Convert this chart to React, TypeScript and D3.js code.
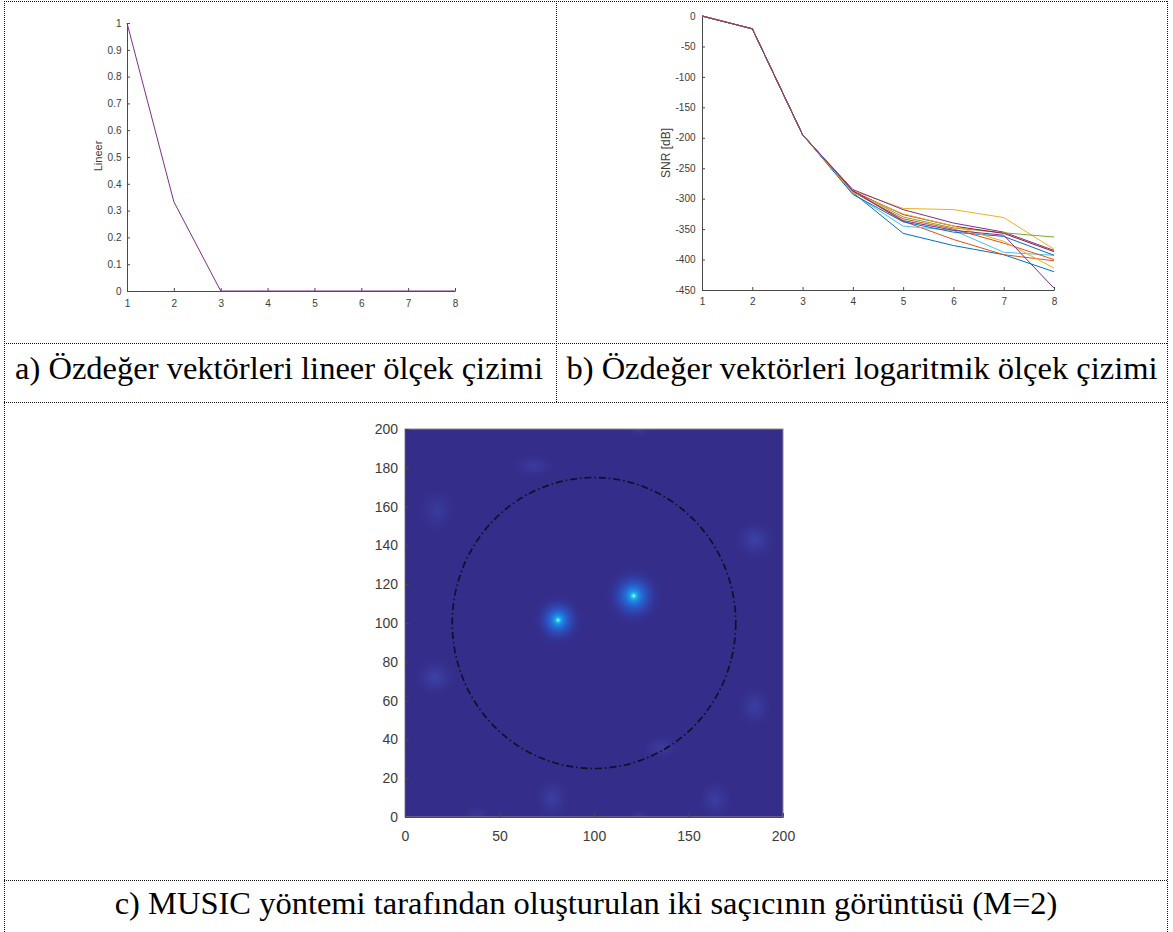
import React, { useEffect, useRef } from 'react';
import * as d3 from 'd3';

// panel a: normalised eigenvalues (linear)
const eigIndex = [1, 2, 3, 4, 5, 6, 7, 8];
const linearValues = [1, 0.333, 0, 0, 0, 0, 0, 0];
const linearTicks = [0, 0.1, 0.2, 0.3, 0.4, 0.5, 0.6, 0.7, 0.8, 0.9, 1];

// panel b: eigenvalues in dB, one line per run
const snrRun1 = [0, -21, -195, -290, -357, -377, -392, -420];
const snrRun2 = [0, -21, -195, -288, -337, -367, -392, -402];
const snrRun3 = [0, -21, -195, -287, -316, -318, -331, -383];
const snrRun4 = [0, -21, -195, -285, -318, -340, -355, -385];
const snrRun5 = [0, -21, -195, -287, -330, -348, -356, -363];
const snrRun6 = [0, -21, -195, -292, -345, -352, -388, -393];
const snrRun7 = [0, -21, -195, -288, -326, -345, -357, -387];
const snrRun8 = [0, -21, -195, -293, -338, -355, -362, -393];
const snrRun9 = [0, -21, -195, -289, -333, -350, -373, -400];
const snrRun10 = [0, -21, -195, -290, -325, -345, -370, -414];
const snrRun11 = [0, -21, -195, -287, -336, -352, -360, -447];
const snrRuns = [snrRun1, snrRun2, snrRun3, snrRun4, snrRun5, snrRun6, snrRun7, snrRun8, snrRun9, snrRun10, snrRun11];
const snrTicks = [0, -50, -100, -150, -200, -250, -300, -350, -400, -450];
const runColors = ['#0072BD', '#D95319', '#EDB120', '#7E2F8E', '#77AC30', '#4DBEEE', '#A2142F'];

// panel c: MUSIC image
const scattererX = [81, 121];
const scattererY = [101.5, 114];
const scattererSpread = [14, 16];
const lobeX = [17, 185, 16, 185, 78, 164, 135, 68, 124, 38, 124];
const lobeY = [158, 143, 72, 57, 10, 9, 36, 181, 200, 1, 0];
const lobeSpreadX = [11, 12, 12, 10, 10, 10, 11, 13, 8, 8, 7];
const lobeSpreadY = [13, 11, 11, 12, 12, 12, 7, 7, 5, 6, 5];
const lobeLevel = [0.55, 0.8, 0.8, 0.7, 0.7, 0.65, 0.6, 0.55, 0.5, 0.45, 0.45];
const imageXTicks = [0, 50, 100, 150, 200];
const imageYTicks = [0, 20, 40, 60, 80, 100, 120, 140, 160, 180, 200];
const arrayCenter = 100;
const arrayRadius = 75;

const captionA = 'a) Özdeğer vektörleri lineer ölçek çizimi';
const captionB = 'b) Özdeğer vektörleri logaritmik ölçek çizimi';
const captionC = 'c) MUSIC yöntemi tarafından oluşturulan iki saçıcının görüntüsü (M=2)';

export default function App() {
  const svgRef = useRef<SVGSVGElement>(null);

  useEffect(() => {
    const svg = d3.select(svgRef.current);
    svg.selectAll('*').remove();

    const tickFont = "'Liberation Sans', Arial, sans-serif";
    const axisColor = '#4a4a4a';
    const labelColor = '#3c3c3c';

    function styleAxis(g, fontSize) {
      g.select('.domain').attr('stroke', axisColor);
      g.selectAll('.tick line').attr('stroke', axisColor);
      g.selectAll('.tick text')
        .attr('fill', labelColor)
        .style('font-family', tickFont)
        .style('font-size', fontSize + 'px');
    }

    // table frame (dotted word table borders)
    const frame = svg
      .append('g')
      .attr('stroke', '#111')
      .attr('stroke-width', 1)
      .attr('stroke-dasharray', '1,1');
    [1.5, 343.5, 402.5, 880.5].forEach((y) => {
      frame.append('line').attr('x1', 4).attr('x2', 1168).attr('y1', y).attr('y2', y);
    });
    frame.append('line').attr('x1', 4.5).attr('x2', 4.5).attr('y1', 1).attr('y2', 932);
    frame.append('line').attr('x1', 1167.5).attr('x2', 1167.5).attr('y1', 1).attr('y2', 932);
    frame.append('line').attr('x1', 556.5).attr('x2', 556.5).attr('y1', 1).attr('y2', 402);

    // ---- panel a
    const xA = d3.scaleLinear().domain([1, 8]).range([127, 455]);
    const yA = d3.scaleLinear().domain([0, 1]).range([291, 23]);
    const gA = svg.append('g');
    gA.append('g')
      .attr('transform', 'translate(0,291)')
      .call(d3.axisBottom(xA).tickValues(eigIndex).tickSizeInner(-3).tickSizeOuter(0).tickPadding(9).tickFormat((d) => String(d)))
      .call((g) => styleAxis(g, 10));
    gA.append('g')
      .attr('transform', 'translate(127,0)')
      .call(d3.axisLeft(yA).tickValues(linearTicks).tickSizeInner(-3).tickSizeOuter(0).tickPadding(5.5).tickFormat((d) => String(d)))
      .call((g) => styleAxis(g, 10));
    gA.append('path')
      .datum(linearValues)
      .attr('fill', 'none')
      .attr('stroke', '#7E2F8E')
      .attr('stroke-width', 1)
      .attr('d', d3.line<number>().x((d, i) => xA(eigIndex[i])).y((d) => yA(d)));
    gA.append('text')
      .attr('transform', 'translate(102,156) rotate(-90)')
      .attr('text-anchor', 'middle')
      .attr('fill', labelColor)
      .style('font-family', tickFont)
      .style('font-size', '11px')
      .text('Lineer');

    // ---- panel b
    const xB = d3.scaleLinear().domain([1, 8]).range([702, 1054]);
    const yB = d3.scaleLinear().domain([-450, 0]).range([290, 16]);
    const gB = svg.append('g');
    gB.append('g')
      .attr('transform', 'translate(0,290)')
      .call(d3.axisBottom(xB).tickValues(eigIndex).tickSizeInner(-3).tickSizeOuter(0).tickPadding(8).tickFormat((d) => String(d)))
      .call((g) => styleAxis(g, 10));
    gB.append('g')
      .attr('transform', 'translate(702,0)')
      .call(d3.axisLeft(yB).tickValues(snrTicks).tickSizeInner(-3).tickSizeOuter(0).tickPadding(6.5).tickFormat((d) => String(d)))
      .call((g) => styleAxis(g, 10));
    gB.append('g')
      .selectAll('path')
      .data(snrRuns)
      .join('path')
      .attr('fill', 'none')
      .attr('stroke', (d, i) => runColors[i % runColors.length])
      .attr('stroke-width', 1)
      .attr('d', d3.line<number>().x((d, i) => xB(eigIndex[i])).y((d) => yB(d)));
    gB.append('text')
      .attr('transform', 'translate(670,153) rotate(-90)')
      .attr('text-anchor', 'middle')
      .attr('fill', labelColor)
      .style('font-family', tickFont)
      .style('font-size', '12px')
      .text('SNR [dB]');

    // ---- panel c
    const xC = d3.scaleLinear().domain([0, 200]).range([405, 783]);
    const yC = d3.scaleLinear().domain([0, 200]).range([817, 429]);
    const bg = '#352D8A';
    const defs = svg.append('defs');
    defs.append('clipPath')
      .attr('id', 'imgClip')
      .append('rect')
      .attr('x', xC(0))
      .attr('y', yC(200))
      .attr('width', xC(200) - xC(0))
      .attr('height', yC(0) - yC(200));

    const peakGrad = defs.append('radialGradient').attr('id', 'peakGrad');
    [
      [0, '#d8fff4', 1],
      [0.05, '#3ed2ea', 1],
      [0.13, '#1b9ae6', 1],
      [0.27, '#2170dc', 0.95],
      [0.48, '#2c52c2', 0.75],
      [0.75, '#3139a0', 0.4],
      [1, bg, 0],
    ].forEach(([o, c, a]) => {
      peakGrad.append('stop').attr('offset', o).attr('stop-color', c).attr('stop-opacity', a);
    });
    const lobeGrad = defs.append('radialGradient').attr('id', 'lobeGrad');
    [
      [0, '#3f4cb2', 0.85],
      [0.45, '#3a40a3', 0.6],
      [1, bg, 0],
    ].forEach(([o, c, a]) => {
      lobeGrad.append('stop').attr('offset', o).attr('stop-color', c).attr('stop-opacity', a);
    });

    const kx = (xC(200) - xC(0)) / 200;
    const ky = (yC(0) - yC(200)) / 200;
    const gC = svg.append('g');
    const img = gC.append('g').attr('clip-path', 'url(#imgClip)');
    img.append('rect')
      .attr('x', xC(0))
      .attr('y', yC(200))
      .attr('width', xC(200) - xC(0))
      .attr('height', yC(0) - yC(200))
      .attr('fill', bg);
    img.selectAll('.lobe')
      .data(lobeX)
      .join('ellipse')
      .attr('class', 'lobe')
      .attr('cx', (d) => xC(d))
      .attr('cy', (d, i) => yC(lobeY[i]))
      .attr('rx', (d, i) => lobeSpreadX[i] * kx)
      .attr('ry', (d, i) => lobeSpreadY[i] * ky)
      .attr('opacity', (d, i) => lobeLevel[i])
      .attr('fill', 'url(#lobeGrad)');
    img.selectAll('.peak')
      .data(scattererX)
      .join('ellipse')
      .attr('class', 'peak')
      .attr('cx', (d) => xC(d))
      .attr('cy', (d, i) => yC(scattererY[i]))
      .attr('rx', (d, i) => scattererSpread[i] * kx)
      .attr('ry', (d, i) => scattererSpread[i] * ky)
      .attr('fill', 'url(#peakGrad)');
    img.append('ellipse')
      .attr('cx', xC(arrayCenter))
      .attr('cy', yC(arrayCenter))
      .attr('rx', xC(arrayCenter + arrayRadius) - xC(arrayCenter))
      .attr('ry', yC(arrayCenter - arrayRadius) - yC(arrayCenter))
      .attr('fill', 'none')
      .attr('stroke', '#10102a')
      .attr('stroke-width', 1.7)
      .attr('stroke-dasharray', '7,3,1.5,3');

    gC.append('rect')
      .attr('x', xC(0))
      .attr('y', yC(200))
      .attr('width', xC(200) - xC(0))
      .attr('height', yC(0) - yC(200))
      .attr('fill', 'none')
      .attr('stroke', '#8a8a8a')
      .attr('stroke-width', 1);
    gC.append('g')
      .attr('transform', `translate(0,${yC(0)})`)
      .call(d3.axisBottom(xC).tickValues(imageXTicks).tickSizeInner(-4).tickSizeOuter(0).tickPadding(14.5).tickFormat((d) => String(d)))
      .call((g) => styleAxis(g, 14));
    gC.append('g')
      .attr('transform', `translate(${xC(0)},0)`)
      .call(d3.axisLeft(yC).tickValues(imageYTicks).tickSizeInner(-4).tickSizeOuter(0).tickPadding(7).tickFormat((d) => String(d)))
      .call((g) => styleAxis(g, 14));

    // captions
    const captionFont = "'Liberation Serif', 'Times New Roman', serif";
    [
      [captionA, 279, 379],
      [captionB, 862, 379],
      [captionC, 586, 914],
    ].forEach(([t, x, y]) => {
      svg.append('text')
        .attr('x', x)
        .attr('y', y)
        .attr('text-anchor', 'middle')
        .attr('fill', '#000')
        .style('font-family', captionFont)
        .style('font-size', '32.5px')
        .text(t);
    });
  }, []);

  return (
    <svg
      ref={svgRef}
      width={1173}
      height={932}
      style={{ position: 'absolute', left: 0, top: 0, background: '#fff' }}
    />
  );
}
